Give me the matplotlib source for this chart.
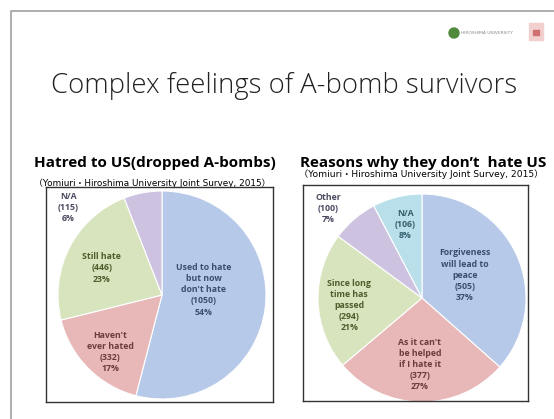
import matplotlib.pyplot as plt
from matplotlib.patches import Circle, Rectangle

W, H = 554, 419

# --- data ---
hate_labels = ["Used to hate\nbut now\ndon't hate", "Haven't\never hated", "Still hate", "N/A"]
hate_counts = [1050, 332, 446, 115]
hate_pcts = [54, 17, 23, 6]

reason_labels = ["Forgiveness\nwill lead to\npeace", "As it can't\nbe helped\nif I hate it",
                 "Since long\ntime has\npassed", "Other", "N/A"]
reason_counts = [505, 377, 294, 100, 106]
reason_pcts = [37, 27, 21, 7, 8]

# --- styles ---
blue, red, green, purple, cyan = "#b6c9e8", "#e8b8b8", "#d7e4bd", "#cdc2e0", "#b8dfea"
hate_colors = [blue, red, green, purple]
reason_colors = [blue, red, green, purple, cyan]
hate_text = ["#3a4f70", "#6a3d3d", "#4c5d2c", "#4a4a60"]
reason_text = ["#3a4f70", "#6a3d3d", "#4c5d2c", "#4a4a60", "#345f6c"]
# label anchors, in units of pie radius relative to the centre
hate_label_pos = [(0.40, 0.05), (-0.50, -0.55), (-0.58, 0.26), (-0.90, 0.84)]
reason_label_pos = [(0.41, 0.22), (-0.02, -0.64), (-0.70, -0.07), (-0.90, 0.86), (-0.16, 0.71)]

fig = plt.figure(figsize=(W / 100, H / 100), dpi=100)
bg = fig.add_axes([0, 0, 1, 1])
bg.set_xlim(0, W)
bg.set_ylim(H, 0)
bg.axis("off")

# slide frame
bg.plot([11, 11, W], [H, 11, 11], color="#a0a0a0", lw=1.2)

# logos (decor)
bg.add_patch(Circle((454, 33), 5, color="#4f8a3a"))
bg.text(461, 33, "HIROSHIMA UNIVERSITY", fontsize=3.2, color="#8a8a8a", va="center")
bg.add_patch(Rectangle((529, 23), 14, 17, color="#f3d0d0"))
bg.add_patch(Rectangle((533, 30), 6, 5, color="#d07070"))

bg.text(284, 86, "Complex feelings of A-bomb survivors", fontsize=19.8, ha="center",
        va="center", color="#222222", family="Open Sans", fontweight="light")

bg.text(34, 163, "Hatred to US(dropped A-bombs)", fontsize=11, fontweight="bold",
        va="center", family="Open Sans", color="black")
bg.text(300, 163, "Reasons why they don\u2019t  hate US", fontsize=11, fontweight="bold",
        va="center", family="Open Sans", color="black")
src = "\uff08Yomiuri\u30fbHiroshima University Joint Survey, 2015\uff09"
bg.text(34, 183, src, fontsize=6.4, va="center", family=["DejaVu Sans", "Noto Sans CJK JP"])
bg.text(299, 174, src, fontsize=6.6, va="center", family=["DejaVu Sans", "Noto Sans CJK JP"])


def pie_box(box, centre, r, labels, counts, pcts, colors, tcolors, lpos):
    x0, y0, x1, y1 = box
    ax = fig.add_axes([x0 / W, 1 - y1 / H, (x1 - x0) / W, (y1 - y0) / H])
    cx, cy = centre[0], H - centre[1]
    ax.pie(counts, colors=colors, startangle=90, counterclock=False, radius=r,
           center=(cx, cy), frame=True,
           wedgeprops=dict(edgecolor="white", linewidth=0.8))
    ax.set_aspect("auto")
    ax.set_xlim(x0, x1)
    ax.set_ylim(H - y1, H - y0)
    ax.set_xticks([])
    ax.set_yticks([])
    for s in ax.spines.values():
        s.set_color("#333333")
        s.set_linewidth(1.0)
    for lab, n, p, c, (dx, dy) in zip(labels, counts, pcts, tcolors, lpos):
        ax.text(cx + dx * r, cy + dy * r, f"{lab}\n({n})\n{p}%", ha="center", va="center",
                fontsize=6.3, fontweight="bold", color=c, linespacing=1.3, family="Open Sans")
    return ax


pie_box((46, 187, 273, 402), (162, 295), 104, hate_labels, hate_counts, hate_pcts,
        hate_colors, hate_text, hate_label_pos)
pie_box((303, 185, 528, 401), (422, 298), 104, reason_labels, reason_counts, reason_pcts,
        reason_colors, reason_text, reason_label_pos)

fig.savefig("out.png", dpi=100)
